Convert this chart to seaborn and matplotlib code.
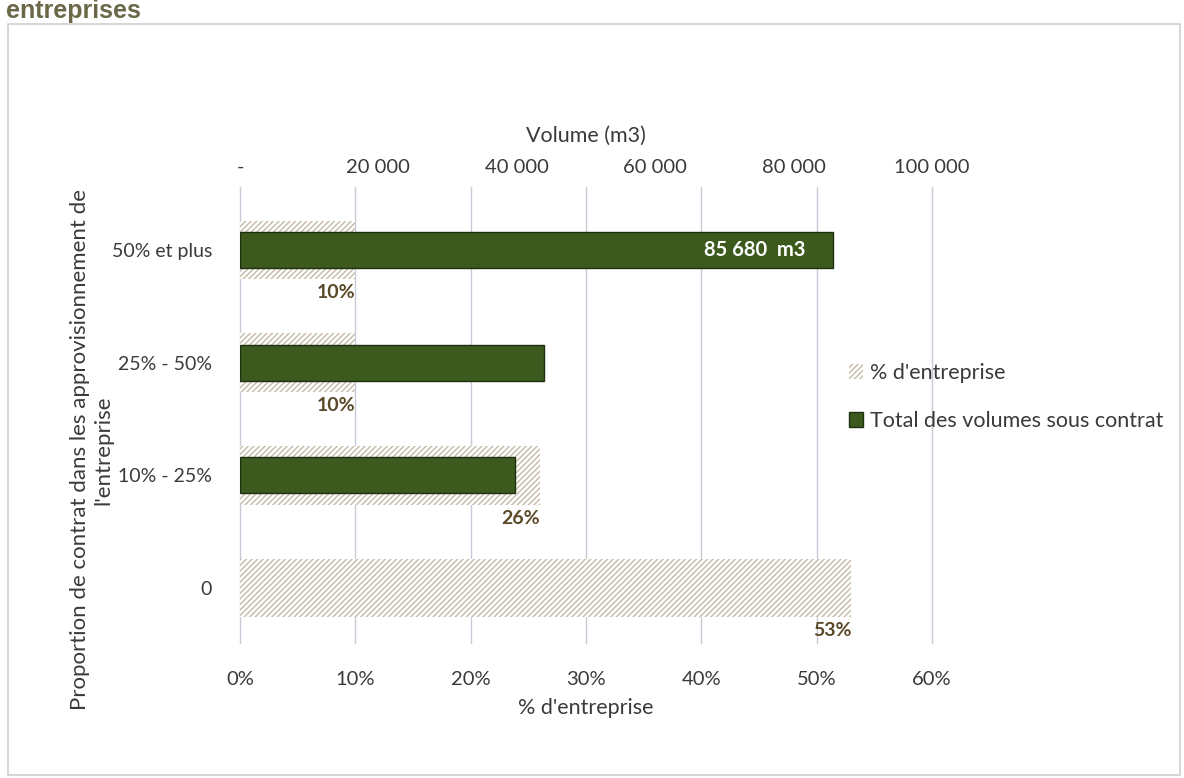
import matplotlib
matplotlib.use("Agg")
import matplotlib.pyplot as plt
import matplotlib.patches as mpatches
import seaborn as sns
import pandas as pd

categories = ["50% et plus", "25% - 50%", "10% - 25%", "0"]
pct_entreprise = [10, 10, 26, 53]
volumes = [85680, 44000, 39700, 0]
pct_ticks = [0, 10, 20, 30, 40, 50, 60]
pct_ticklabels = ["0%", "10%", "20%", "30%", "40%", "50%", "60%"]
vol_ticks = [0, 20000, 40000, 60000, 80000, 100000]
vol_ticklabels = ["-", "20 000", "40 000", "60 000", "80 000", "100 000"]

sns.set_theme(style="white")
plt.rcParams["font.family"] = ["Lato", "DejaVu Sans"]
plt.rcParams["hatch.linewidth"] = 1.0

TXT = "#3a3a3a"
GREEN = "#3c5a1e"
HATCH = "#c4b9a6"
LABEL = "#5a4826"

df = pd.DataFrame({"cat": categories, "pct": pct_entreprise, "vol": volumes})

fig = plt.figure(figsize=(11.84, 7.78), dpi=100)
ax = fig.add_axes([240 / 1184, 1 - 643 / 778, 692 / 1184, 456 / 778])

sns.barplot(data=df, x="pct", y="cat", orient="h", width=0.52, color="white",
            saturation=1, ax=ax, zorder=2)
for p in ax.patches:
    p.set_facecolor("white")
    p.set_edgecolor(HATCH)
    p.set_hatch("//////")
    p.set_linewidth(0)

ax.set_xlim(0, 60)
ax.set_xticks(pct_ticks)
ax.set_xticklabels(pct_ticklabels)
ax.grid(axis="x", color="#c8cad8", linewidth=1.0, zorder=0)
for gl in ax.get_xgridlines():
    gl.set_clip_on(False)
ax.set_axisbelow(True)
for s in ax.spines.values():
    s.set_visible(False)
ax.tick_params(axis="x", length=0, pad=20, labelsize=14.5, labelcolor=TXT)
ax.tick_params(axis="y", length=0, pad=20, labelsize=14, labelcolor=TXT)
ax.set_xlabel("% d'entreprise", fontsize=15.5, color=TXT, labelpad=7)
ax.set_ylabel("")

for i, v in enumerate(pct_entreprise):
    ax.text(v, i + 0.38, f"{v}%", ha="right", va="center", fontsize=14,
            fontweight="bold", color=LABEL, zorder=5)

ax2 = ax.twiny()
sns.barplot(data=df, x="vol", y="cat", orient="h", width=0.32, color=GREEN,
            saturation=1, edgecolor="#1e3010", linewidth=1.0, ax=ax2)
for p in ax2.patches:
    if p.get_width() == 0:
        p.set_visible(False)
ax2.set_xlim(0, 100000)
ax2.set_xticks(vol_ticks)
ax2.set_xticklabels(vol_ticklabels)
ax2.tick_params(axis="x", length=0, pad=8, labelsize=14.5, labelcolor=TXT)
ax2.set_xlabel("Volume (m3)", fontsize=15.5, color=TXT, labelpad=12)
ax2.set_ylabel("")
ax2.grid(False)
for s in ax2.spines.values():
    s.set_visible(False)
ax.set_ylim(3.49, -0.56)

ax2.text(volumes[0] - 4000, 0, "85 680  m3", ha="right", va="center",
         fontsize=14.5, fontweight="bold", color="white", zorder=6)

fig.text(92 / 1184, 1 - 450 / 778,
         "Proportion de contrat dans les approvisionnement de\nl'entreprise",
         rotation=90, ha="center", va="center", fontsize=16, color=TXT,
         multialignment="center", linespacing=1.2)

handles = [mpatches.Patch(facecolor="white", edgecolor=HATCH, hatch="//////", linewidth=0),
           mpatches.Patch(facecolor=GREEN, edgecolor="#1e3010")]
fig.legend(handles, ["% d'entreprise", "Total des volumes sous contrat"],
           loc="center left", bbox_to_anchor=(830 / 1184, 1 - 397 / 778),
           frameon=False, fontsize=15.5, labelcolor=TXT, handlelength=0.65,
           handleheight=0.65, handletextpad=0.3, labelspacing=1.3)

fig.patches.append(mpatches.Rectangle((8 / 1184, 3 / 778), 1172 / 1184, 751 / 778,
                                      transform=fig.transFigure, fill=False,
                                      edgecolor="#d0d0d0", linewidth=1.2))
fig.text(6 / 1184, 1 - 18 / 778, "entreprises", fontsize=18, fontweight="bold",
         family=["Liberation Sans", "DejaVu Sans"], color="#6a6848",
         ha="left", va="baseline")

fig.savefig("out.png", dpi=100, facecolor="white")
